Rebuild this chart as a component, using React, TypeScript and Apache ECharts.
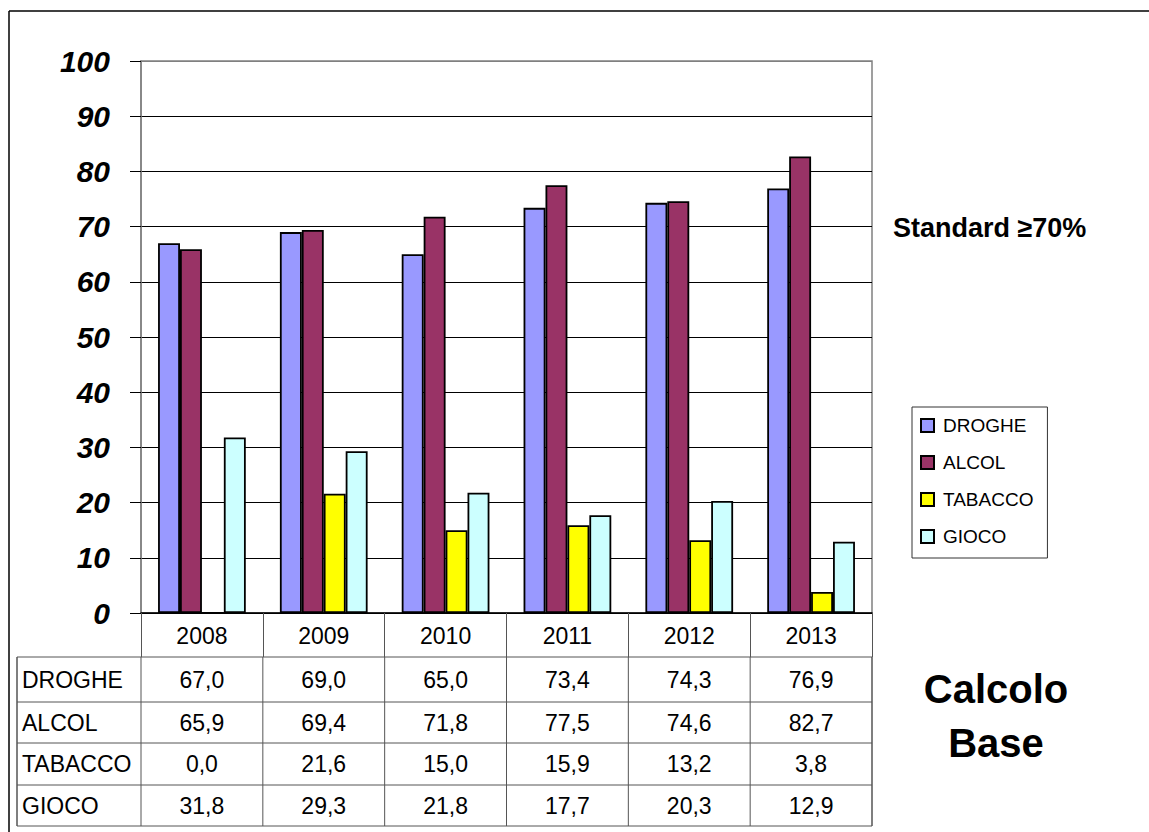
import { useEffect, useRef } from "react";
import * as echarts from "echarts";

const years = ["2008", "2009", "2010", "2011", "2012", "2013"];
const droghe = [67.0, 69.0, 65.0, 73.4, 74.3, 76.9];
const alcol = [65.9, 69.4, 71.8, 77.5, 74.6, 82.7];
const tabacco = [0.0, 21.6, 15.0, 15.9, 13.2, 3.8];
const gioco = [31.8, 29.3, 21.8, 17.7, 20.3, 12.9];
const seriesNames = ["DROGHE", "ALCOL", "TABACCO", "GIOCO"];
const seriesColors = ["#9999FF", "#993366", "#FFFF00", "#CCFFFF"];
const standardLabel = "Standard ≥70%";
const sideTitle = ["Calcolo", "Base"];

const FONT = "'Liberation Sans', Arial, sans-serif";

// plot area in page pixels
const PL = 141;
const PT = 61;
const PR = 872;
const PB = 613;
const colW = (PR - PL) / years.length;
const rowLines = [657, 702, 743, 785, 826];
const TABLE_LEFT = 17;

const fmt = (v: number) => v.toFixed(1).replace(".", ",");

export default function App() {
  const ref = useRef<HTMLDivElement>(null);

  useEffect(() => {
    if (!ref.current) return;
    const chart = echarts.init(ref.current, undefined, { renderer: "svg" });
    const values = [droghe, alcol, tabacco, gioco];

    const graphic: any[] = [];
    // outer frame (right/bottom edges fall off the picture)
    graphic.push({
      type: "line",
      shape: { x1: 9, y1: 11, x2: 1149, y2: 11 },
      style: { stroke: "#000", lineWidth: 1.5 },
    });
    graphic.push({
      type: "line",
      shape: { x1: 9, y1: 11, x2: 9, y2: 832 },
      style: { stroke: "#000", lineWidth: 1.5 },
    });
    // data table grid
    rowLines.forEach((y) =>
      graphic.push({
        type: "line",
        shape: { x1: TABLE_LEFT, y1: y, x2: PR, y2: y },
        style: { stroke: "#555", lineWidth: 1 },
      })
    );
    [TABLE_LEFT, ...years.map((_, i) => PL + i * colW), PR].forEach((x) =>
      graphic.push({
        type: "line",
        shape: { x1: x, y1: rowLines[0], x2: x, y2: rowLines[rowLines.length - 1] },
        style: { stroke: "#555", lineWidth: x === TABLE_LEFT || x === PR ? 1.5 : 1 },
      })
    );
    seriesNames.forEach((name, r) => {
      const cy = (rowLines[r] + rowLines[r + 1]) / 2;
      graphic.push({
        type: "text",
        style: {
          text: name,
          x: 22,
          y: cy,
          align: "left",
          verticalAlign: "middle",
          fontSize: 23,
          fontFamily: FONT,
          fill: "#000",
        },
      });
      values[r].forEach((v, i) =>
        graphic.push({
          type: "text",
          style: {
            text: fmt(v),
            x: PL + (i + 0.5) * colW,
            y: cy,
            align: "center",
            verticalAlign: "middle",
            fontSize: 23,
            fontFamily: FONT,
            fill: "#000",
          },
        })
      );
    });
    graphic.push({
      type: "text",
      style: {
        text: standardLabel,
        x: 893,
        y: 228,
        align: "left",
        verticalAlign: "middle",
        fontSize: 27,
        fontWeight: "bold",
        fontFamily: FONT,
        fill: "#000",
      },
    });
    sideTitle.forEach((t, i) =>
      graphic.push({
        type: "text",
        style: {
          text: t,
          x: 996,
          y: 689 + i * 54,
          align: "center",
          verticalAlign: "middle",
          fontSize: 40,
          fontWeight: "bold",
          fontFamily: FONT,
          fill: "#000",
        },
      })
    );

    const splitColors = Array.from({ length: 11 }, (_, i) => (i === 10 ? "#808080" : "#000"));

    chart.setOption({
      animation: false,
      backgroundColor: "#fff",
      textStyle: { fontFamily: FONT },
      grid: {
        left: PL,
        top: PT,
        right: 1149 - PR,
        bottom: 832 - PB,
        show: true,
        borderColor: "#808080",
        borderWidth: 1.5,
      },
      legend: {
        orient: "vertical",
        left: 912,
        top: 407,
        padding: [9, 14, 12, 8],
        itemGap: 18,
        itemWidth: 13,
        itemHeight: 13,
        icon: "rect",
        borderColor: "#333",
        borderWidth: 1,
        backgroundColor: "#fff",
        textStyle: { fontSize: 19, color: "#000", fontFamily: FONT, padding: [0, 0, 0, 4] },
        data: seriesNames,
      },
      xAxis: {
        type: "category",
        data: years,
        axisLine: { lineStyle: { color: "#000", width: 1.5 } },
        axisTick: { show: true, length: 44, lineStyle: { color: "#555", width: 1 } },
        axisLabel: { fontSize: 23, color: "#000", margin: 11, fontFamily: FONT },
        splitLine: { show: false },
      },
      yAxis: {
        type: "value",
        min: 0,
        max: 100,
        interval: 10,
        axisLine: { show: true, lineStyle: { color: "#808080", width: 1.5 } },
        axisTick: { show: true, length: 11, lineStyle: { color: "#000", width: 1 } },
        axisLabel: {
          fontSize: 30,
          fontWeight: "bold",
          fontStyle: "italic",
          color: "#000",
          margin: 31,
          fontFamily: FONT,
        },
        splitLine: { show: true, lineStyle: { color: splitColors, width: 1 } },
      },
      series: seriesNames.map((name, k) => ({
        name,
        type: "bar",
        data: values[k],
        barGap: "0%",
        barCategoryGap: "28%",
        itemStyle: { color: seriesColors[k], borderColor: "#000", borderWidth: 1.8 },
      })),
      graphic,
    });

    return () => chart.dispose();
  }, []);

  return (
    <div
      ref={ref}
      style={{ position: "absolute", left: 0, top: 0, width: 1149, height: 832 }}
    />
  );
}
